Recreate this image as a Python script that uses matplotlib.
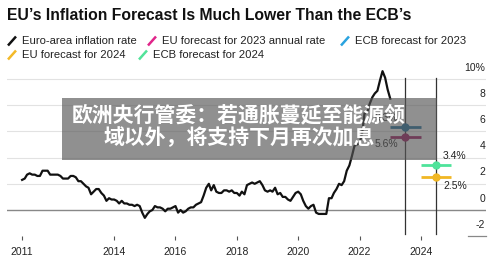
import datetime as dt
import pandas as pd
import matplotlib
matplotlib.use('Agg')
import matplotlib.pyplot as plt
import matplotlib.transforms as mtransforms
from matplotlib.lines import Line2D
from matplotlib.patches import Rectangle

plt.rcParams['font.family'] = ['Liberation Sans', 'Noto Sans CJK SC', 'DejaVu Sans']

# euro-area HICP, yoy %, monthly from Jan 2011 to Jan 2023
inflation = [
    2.3, 2.4, 2.7, 2.8, 2.7, 2.7, 2.6, 2.6, 3.0, 3.0, 3.0, 2.7,
    2.7, 2.7, 2.7, 2.6, 2.4, 2.4, 2.4, 2.6, 2.6, 2.5, 2.2, 2.2,
    2.0, 1.8, 1.7, 1.2, 1.4, 1.6, 1.6, 1.3, 1.1, 0.7, 0.9, 0.8,
    0.8, 0.7, 0.5, 0.7, 0.5, 0.5, 0.4, 0.4, 0.3, 0.4, 0.3, -0.2,
    -0.6, -0.3, -0.1, 0.0, 0.3, 0.2, 0.2, 0.1, -0.1, 0.1, 0.1, 0.2,
    0.3, -0.2, 0.0, -0.2, -0.1, 0.1, 0.2, 0.2, 0.4, 0.5, 0.6, 1.1,
    1.7, 2.0, 1.5, 1.9, 1.4, 1.3, 1.3, 1.5, 1.5, 1.4, 1.5, 1.3,
    1.3, 1.1, 1.4, 1.2, 1.9, 2.0, 2.1, 2.0, 2.1, 2.2, 1.9, 1.5,
    1.4, 1.5, 1.4, 1.7, 1.2, 1.3, 1.0, 1.0, 0.8, 0.7, 1.0, 1.3,
    1.4, 1.2, 0.7, 0.3, 0.1, 0.3, 0.4, -0.2, -0.3, -0.3, -0.3, -0.3,
    0.9, 0.9, 1.3, 1.6, 2.0, 1.9, 2.2, 3.0, 3.4, 4.1, 4.9, 5.0,
    5.1, 5.9, 7.4, 7.4, 8.1, 8.6, 8.9, 9.1, 9.9, 10.6, 10.1, 9.2,
    8.5,
]
dates = pd.date_range('2011-01-01', periods=len(inflation), freq='MS')

# forecasts (annual averages, plotted mid-year)
fc_years = [dt.datetime(2023, 7, 1), dt.datetime(2024, 7, 1)]
ecb_2023 = 6.3
eu_2023 = 5.6
ecb_2024 = 3.4
eu_2024 = 2.5

year_ticks = [2011, 2014, 2016, 2018, 2020, 2022, 2024]
y_ticks = [10, 8, 6, 4, 2, 0, -2]

legend_items = [
    ('Euro-area inflation rate', '#111111'),
    ('EU forecast for 2023 annual rate', '#e0258a'),
    ('ECB forecast for 2023', '#2aa3df'),
    ('EU forecast for 2024', '#f3b928'),
    ('ECB forecast for 2024', '#52e39a'),
]

W, H = 500, 259
fig = plt.figure(figsize=(W / 100, H / 100), dpi=100)
fig.patch.set_facecolor('white')

def fx(px):
    return px / W

def fy(py):
    return 1 - py / H

ax = fig.add_axes([fx(7), fy(236.2), fx(486 - 7), (236.2 - 65) / H])
ax.set_xlim(dt.datetime(2010, 7, 5), dt.datetime(2026, 2, 14))
ax.set_ylim(-2, 11.07)
for s in ax.spines.values():
    s.set_visible(False)
ax.set_yticks([])
ax.set_xticks([dt.datetime(y, 1, 1) for y in year_ticks])
ax.set_xticklabels([str(y) for y in year_ticks], fontsize=7.5, color='#222222')
ax.tick_params(axis='x', length=3, width=0.8, color='#555555', pad=5)

# gridlines
for v in y_ticks:
    if v == -2:
        continue
    ax.axhline(v, color='#888888' if v == 0 else '#e2e2e2',
               lw=1.0 if v == 0 else 0.8, zorder=1)
tr = mtransforms.blended_transform_factory(ax.transAxes, ax.transData)
ax.plot([0.962, 1.0], [-2, -2], color='#888888', lw=0.9, transform=tr, clip_on=False)
lab_off = mtransforms.offset_copy(tr, fig=fig, y=8.2, units='points')
for v in y_ticks:
    lab = f'{v}%' if v == 10 else str(v)
    ax.text(0.998, v, lab, transform=lab_off, ha='right', va='center',
            fontsize=7.5, color='#222222')

# forecast year markers
for d in fc_years:
    ax.plot([d, d], [-1.85, 10.1], color='#333333', lw=0.9, zorder=2)

ax.plot(dates, inflation, color='#111111', lw=1.6, zorder=4,
        solid_joinstyle='round')

half = dt.timedelta(days=182)
forecasts = [
    (fc_years[0], ecb_2023, '#1b6f9f'),
    (fc_years[0], eu_2023, '#a1135e'),
    (fc_years[1], ecb_2024, '#4ee39a'),
    (fc_years[1], eu_2024, '#f1b724'),
]
for d, v, c in forecasts:
    ax.plot([d - half, d + half], [v, v], color=c, lw=2.0, zorder=5,
            solid_capstyle='butt')
    ax.plot([d], [v], 'o', color=c, ms=5, zorder=6)

ax.annotate(f'{ecb_2023}%', (fc_years[0], ecb_2023), xytext=(-5, 6.5),
            textcoords='offset points', ha='right', va='center', fontsize=7.5, color='#222222')
ax.annotate(f'{eu_2023}%', (fc_years[0], eu_2023), xytext=(-5, -5.5),
            textcoords='offset points', ha='right', va='center', fontsize=7.5, color='#222222')
ax.annotate(f'{ecb_2024}%', (fc_years[1], ecb_2024), xytext=(5, 7),
            textcoords='offset points', ha='left', va='center', fontsize=7.5, color='#222222')
ax.annotate(f'{eu_2024}%', (fc_years[1], eu_2024), xytext=(5, -6.5),
            textcoords='offset points', ha='left', va='center', fontsize=7.5, color='#222222')

# title and legend
fig.text(fx(7), fy(15), "EU\u2019s Inflation Forecast Is Much Lower Than the ECB\u2019s",
         fontsize=11.3, fontweight='bold', ha='left', va='center', color='#111111')

legend_pos = [(7, 41), (147, 41), (340, 41), (7, 55), (138, 55)]
for (lab, c), (x0, y0) in zip(legend_items, legend_pos):
    fig.add_artist(Line2D([fx(x0 + 1), fx(x0 + 9)], [fy(y0 + 4.5), fy(y0 - 4.5)],
                          color=c, lw=1.8, solid_capstyle='butt'))
    fig.text(fx(x0 + 15), fy(y0), lab, fontsize=8.1, ha='left', va='center', color='#222222')

# news banner overlay
fig.add_artist(Rectangle((fx(62), fy(160)), fx(437 - 62), (160 - 98) / H,
                         transform=fig.transFigure, facecolor='#555555', alpha=0.65,
                         edgecolor='none', zorder=10))
for txt, yy in [('欧洲央行管委：若通胀蔓延至能源领', 115), ('域以外，将支持下月再次加息', 138)]:
    fig.text(fx(239), fy(yy), txt, fontsize=15, fontweight='bold', color='white',
             family=['Noto Sans CJK SC', 'DejaVu Sans'], ha='center', va='center', zorder=11)

fig.savefig('out.png', dpi=100)
